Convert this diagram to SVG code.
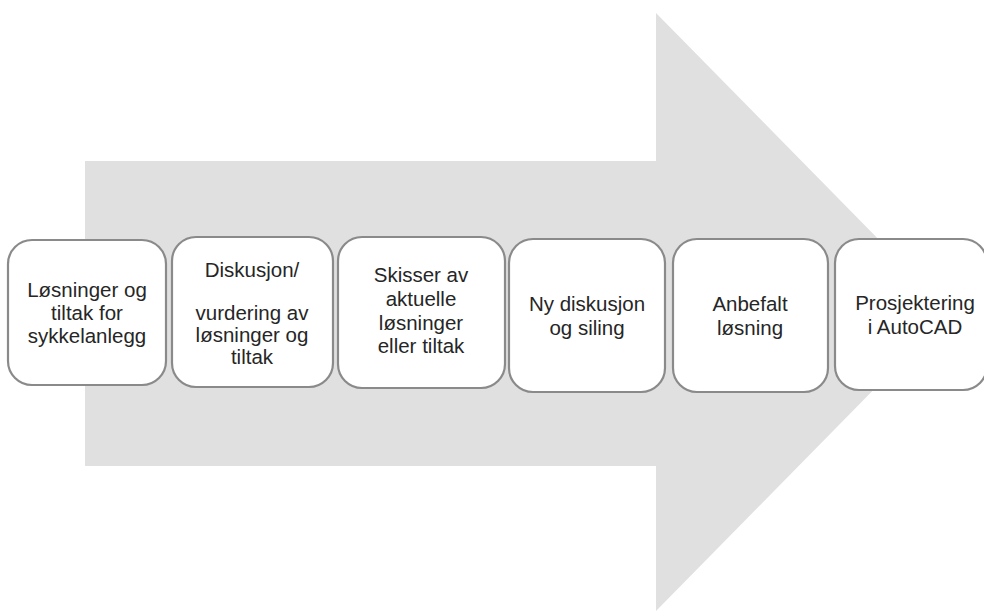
<svg xmlns="http://www.w3.org/2000/svg" width="984" height="611" viewBox="0 0 984 611">
<style>
.box{fill:#ffffff;stroke:#8a8a8a;stroke-width:2.2}
.t{font-family:"Liberation Sans",Arial,sans-serif;font-size:20.5px;fill:#262626;text-anchor:middle}
</style>
<rect width="984" height="611" fill="#ffffff"/>
<polygon id="arrow" points="85,161 656,161 656,13 950,312 656,611 656,466 85,466" fill="#e0e0e0"/>
<g id="connectors"></g>
<g id="n1"><rect class="box" x="8" y="240" width="158" height="145" rx="24"/>
<text class="t" x="87" y="297">Løsninger og</text><text class="t" x="87" y="320">tiltak for</text><text class="t" x="87" y="343">sykkelanlegg</text></g>
<g id="n2"><rect class="box" x="172" y="237" width="161" height="150" rx="24"/>
<text class="t" x="252" y="277">Diskusjon/</text><text class="t" x="252" y="320">vurdering av</text><text class="t" x="252" y="342">løsninger og</text><text class="t" x="252" y="364">tiltak</text></g>
<g id="n3"><rect class="box" x="338" y="237" width="167" height="151" rx="24"/>
<text class="t" x="421" y="282">Skisser av</text><text class="t" x="421" y="306">aktuelle</text><text class="t" x="421" y="330">løsninger</text><text class="t" x="421" y="353">eller tiltak</text></g>
<g id="n4"><rect class="box" x="509" y="239" width="156" height="153" rx="24"/>
<text class="t" x="587" y="311">Ny diskusjon</text><text class="t" x="587" y="335">og siling</text></g>
<g id="n5"><rect class="box" x="673" y="239" width="155" height="153" rx="24"/>
<text class="t" x="750" y="311">Anbefalt</text><text class="t" x="750" y="335">løsning</text></g>
<g id="n6"><rect class="box" x="835" y="239" width="152" height="151" rx="24"/>
<text class="t" x="915" y="310">Prosjektering</text><text class="t" x="915" y="334">i AutoCAD</text></g>
</svg>
